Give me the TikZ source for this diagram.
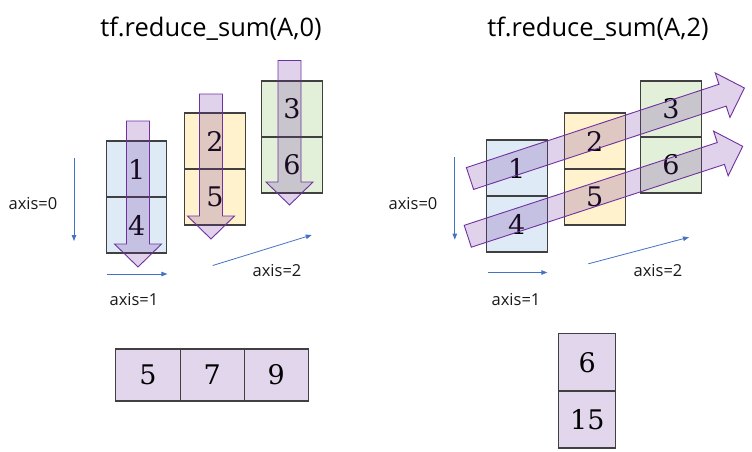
\documentclass[tikz,border=0pt]{standalone}
\usepackage{fontspec}
\newfontfamily\uifont{Open Sans}
\newfontfamily\numfont{DejaVu Serif}
\usetikzlibrary{calc,arrows.meta}
\definecolor{cellblue}{HTML}{DEEBF7}
\definecolor{cellyellow}{HTML}{FFF2CC}
\definecolor{cellgreen}{HTML}{E2F0D9}
\definecolor{sumpurple}{HTML}{7030A0}
\definecolor{axisblue}{HTML}{4472C4}
\definecolor{edgegray}{HTML}{404040}

% fat arrow from #1 to #2
\newcommand{\fatarrow}[2]{%
  \coordinate (head) at ($(#2)!23pt!(#1)$);
  \draw[sumarrow] ($(#1)!11.5pt!90:(#2)$) -- ($(head)!11.5pt!90:(#2)$)
    -- ($(head)!23.5pt!90:(#2)$) -- (#2) -- ($(head)!23.5pt!-90:(#2)$)
    -- ($(head)!11.5pt!-90:(#2)$) -- ($(#1)!11.5pt!-90:(#2)$) -- cycle;
}

\begin{document}
\begin{tikzpicture}[x=1pt,y={(0,-1pt)},
  cell/.style={draw=edgegray, line width=1.1pt, minimum width=60.5pt,
    minimum height=56pt, inner sep=0pt, font=\numfont\fontsize{27}{27}\selectfont},
  sumcell/.style={cell, fill=sumpurple!20},
  sumarrow/.style={draw=sumpurple, line width=0.9pt, fill=sumpurple,
    fill opacity=0.22, line join=miter},
  axisarrow/.style={draw=axisblue, line width=0.8pt,
    -{Triangle[length=6pt,width=4.5pt]}},
  axislabel/.style={font=\uifont\fontsize{16.5}{16.5}\selectfont, text=black!90},
  title/.style={font=\uifont\fontsize{25.5}{25.5}\selectfont}]
\useasboundingbox (0,0) rectangle (752,451);

% titles
\node[title] (t0) at (211,29) {tf.reduce\_sum(A,0)};
\node[title] (t2) at (598,29) {tf.reduce\_sum(A,2)};

% left block
\node[cell, fill=cellblue] (b1) at (136.6,169) {1};
\node[cell, fill=cellblue] (b4) at (136.6,225) {4};
\node[cell, fill=cellyellow] (y2) at (215,141) {2};
\node[cell, fill=cellyellow] (y5) at (215,197) {5};
\node[cell, fill=cellgreen] (g3) at (292,109) {3};
\node[cell, fill=cellgreen] (g6) at (292,165) {6};

% right block
\node[cell, fill=cellblue] (B1) at (516.8,168) {1};
\node[cell, fill=cellblue] (B4) at (516.8,224) {4};
\node[cell, fill=cellyellow] (Y2) at (594.8,141) {2};
\node[cell, fill=cellyellow] (Y5) at (594.8,197) {5};
\node[cell, fill=cellgreen] (G3) at (670.9,109) {3};
\node[cell, fill=cellgreen] (G6) at (670.9,165) {6};

% sum arrows, axis 0
\coordinate (s1) at (138,121);   \coordinate (e1) at (138,267);
\coordinate (s2) at (211,94);    \coordinate (e2) at (211,239);
\coordinate (s3) at (289.5,60.5);\coordinate (e3) at (289.5,205);
\fatarrow{s1}{e1}
\fatarrow{s2}{e2}
\fatarrow{s3}{e3}

% sum arrows, axis 2
\coordinate (S1) at (470,178.5);   \coordinate (E1) at (744.4,88);
\coordinate (S2) at (467.75,236.25);\coordinate (E2) at (742.7,146.3);
\fatarrow{S1}{E1}
\fatarrow{S2}{E2}

% axes, left
\coordinate (ax0a) at (74,158);     \coordinate (ax0b) at (74,241);
\coordinate (ax1a) at (106.6,274);  \coordinate (ax1b) at (167.4,274);
\coordinate (ax2a) at (212.7,265.5);\coordinate (ax2b) at (311.7,235);
\draw[axisarrow] (ax0a) -- (ax0b);
\draw[axisarrow] (ax1a) -- (ax1b);
\draw[axisarrow] (ax2a) -- (ax2b);
\node[axislabel] (l0) at (33,204) {axis=0};
\node[axislabel] (l1) at (134,300) {axis=1};
\node[axislabel] (l2) at (277,271) {axis=2};

% axes, right
\coordinate (AX0a) at (454.8,157);  \coordinate (AX0b) at (454.8,239.6);
\coordinate (AX1a) at (488,272.5);  \coordinate (AX1b) at (547.4,272.5);
\coordinate (AX2a) at (588.3,263.8);\coordinate (AX2b) at (689,237.2);
\draw[axisarrow] (AX0a) -- (AX0b);
\draw[axisarrow] (AX1a) -- (AX1b);
\draw[axisarrow] (AX2a) -- (AX2b);
\node[axislabel] (L0) at (413,204) {axis=0};
\node[axislabel] (L1) at (516,300) {axis=1};
\node[axislabel] (L2) at (658,271) {axis=2};

% results
\node[sumcell, minimum width=64.3pt, minimum height=52pt] (r5) at (148,375) {5};
\node[sumcell, minimum width=64.3pt, minimum height=52pt] (r7) at (212.3,375) {7};
\node[sumcell, minimum width=64.3pt, minimum height=52pt] (r9) at (276.3,375) {9};
\node[sumcell, minimum width=57pt, minimum height=57pt] (q6) at (587.3,362.3) {6};
\node[sumcell, minimum width=57pt, minimum height=57pt] (q15) at (587.3,419.5) {15};
\end{tikzpicture}
\end{document}
